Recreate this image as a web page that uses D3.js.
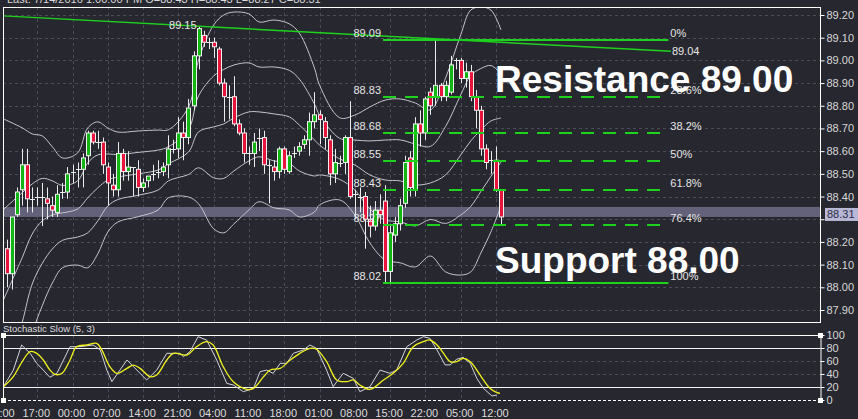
<!DOCTYPE html>
<html><head><meta charset="utf-8">
<script src="https://cdn.jsdelivr.net/npm/d3@7"></script>
<style>html,body{margin:0;padding:0;background:#27272f;overflow:hidden}svg{display:block}</style>
</head><body><svg id="c" width="858" height="419"></svg>
<script>
// ---------- DATA ----------
const opens  = [88.17,88.06,88.32,88.43,88.54,88.39,88.40,88.40,88.39,88.36,88.33,88.41,88.42,88.50,88.51,88.52,88.58,88.68,88.64,88.64,88.53,88.45,88.43,88.59,88.51,88.53,88.52,88.44,88.47,88.49,88.50,88.51,88.54,88.61,88.61,88.68,88.66,88.80,89.02,89.11,89.08,89.08,89.05,88.90,88.84,88.84,88.72,88.68,88.59,88.59,88.65,88.66,88.54,88.53,88.51,88.61,88.51,88.59,88.60,88.63,88.65,88.73,88.76,88.73,88.65,88.50,88.55,88.55,88.66,88.41,88.41,88.40,88.30,88.27,88.34,88.38,88.07,88.23,88.28,88.37,88.57,88.43,88.72,88.68,88.86,88.84,88.89,88.84,88.86,88.99,89.00,88.92,88.95,88.84,88.78,88.61,88.55,88.56,88.43];
const highs  = [88.21,88.31,88.44,88.61,88.61,88.44,88.44,88.46,88.44,88.40,88.45,88.46,88.53,88.54,88.55,88.59,88.69,88.69,88.69,88.66,88.55,88.50,88.64,88.61,88.60,88.53,88.56,88.48,88.49,88.54,88.56,88.55,88.67,88.65,88.75,88.73,88.83,89.04,89.15,89.13,89.10,89.10,89.06,88.92,88.89,88.93,88.74,88.70,88.62,88.68,88.70,88.69,88.56,88.56,88.62,88.62,88.60,88.62,88.64,88.67,88.77,88.86,88.78,88.75,88.67,88.61,88.58,88.67,88.82,88.43,88.44,88.42,88.36,88.38,88.41,88.45,88.27,88.31,88.39,88.58,88.60,88.75,88.78,88.84,88.88,89.09,88.90,88.91,89.02,89.01,89.01,88.99,88.98,88.87,88.80,88.63,88.60,88.62,88.43];
const lows   = [88.00,87.99,88.31,88.36,88.33,88.33,88.36,88.27,88.30,88.31,88.31,88.39,88.39,88.46,88.44,88.44,88.54,88.63,88.61,88.50,88.36,88.40,88.40,88.47,88.47,88.40,88.40,88.42,88.44,88.47,88.48,88.49,88.48,88.59,88.57,88.56,88.63,88.78,88.96,89.06,89.05,89.01,88.89,88.73,88.74,88.71,88.67,88.55,88.54,88.53,88.60,88.50,88.37,88.47,88.48,88.50,88.50,88.57,88.58,88.61,88.58,88.70,88.63,88.61,88.45,88.46,88.53,88.50,88.39,88.30,88.33,88.17,88.22,88.25,88.28,88.02,88.02,88.20,88.25,88.35,88.40,88.40,88.62,88.65,88.76,88.80,88.82,88.82,88.85,88.96,88.90,88.88,88.82,88.70,88.58,88.52,88.50,88.42,88.27];
const closes = [88.06,88.31,88.42,88.54,88.39,88.39,88.40,88.40,88.37,88.34,88.41,88.42,88.50,88.51,88.52,88.57,88.68,88.64,88.64,88.54,88.46,88.43,88.59,88.51,88.53,88.53,88.44,88.46,88.49,88.50,88.51,88.53,88.61,88.61,88.68,88.66,88.79,89.02,89.14,89.08,89.08,89.06,88.90,88.84,88.84,88.72,88.68,88.59,88.59,88.64,88.66,88.54,88.54,88.51,88.61,88.52,88.58,88.59,88.62,88.65,88.73,88.76,88.74,88.66,88.50,88.55,88.55,88.66,88.40,88.41,88.40,88.30,88.27,88.34,88.32,88.07,88.24,88.28,88.36,88.55,88.44,88.72,88.68,88.83,88.80,88.89,88.84,88.89,88.98,89.00,88.92,88.95,88.84,88.78,88.61,88.55,88.56,88.43,88.31];

// Bollinger: middle line and outer deviation
const bandIdx = [-1,3,5,7,9,11,14,16,18,20,22,26,30,32,36,38,41,43,45,48,50,53,56,58,61,62,66,69,72,75,78,81,84,87,90,92,94,96,98];
const bandMid = [87.93,88.13,88.235,88.293,88.319,88.328,88.345,88.394,88.438,88.473,88.486,88.50,88.517,88.544,88.596,88.685,88.707,88.72,88.746,88.773,88.773,88.764,88.751,88.715,88.649,88.627,88.566,88.539,88.495,88.473,88.469,88.451,88.46,88.495,88.583,88.645,88.693,88.733,88.746];
const bandDev = [0.815,0.573,0.441,0.374,0.300,0.242,0.247,0.308,0.291,0.229,0.198,0.189,0.176,0.150,0.198,0.317,0.449,0.480,0.467,0.432,0.396,0.414,0.410,0.405,0.317,0.264,0.181,0.220,0.300,0.352,0.361,0.361,0.322,0.427,0.529,0.577,0.542,0.489,0.388];

// Stochastic slow (5,3)
const kIdx  = [-0.7,1.25,2.9,4.6,5.9,7.2,8.5,9.9,11.2,12.5,14.5,17.1,18.5,19.8,20.8,22.4,23.8,25.1,26.4,27.7,29.7,31.7,34.3,35,36.3,37.9,39.6,41.6,43.6,44.9,46.9,48.9,50.2,51.5,52.8,54.2,55.5,56.8,58.8,60.1,61.4,63.4,64.7,66.7,68.7,70,72,74,76,77.3,79.3,81.3,82.6,83.9,85.3,86.9,87.9,89.2,90.5,91.9,93.2,94.5,96.2,97.2];
const kVals = [20.5,46,84.6,71.8,56.4,46,35,41,61.5,82,82,84.6,77,46,28.2,46,61.5,51.3,41,30.8,46,71.8,71.8,66.7,74.4,97.4,92.3,61.5,25.6,23.1,12.8,18,43.6,46,41,56.4,56.4,71.8,77,84.6,79.5,46,20.5,41,33.3,12.8,20.5,46,41,46,82,92.3,97.4,94.9,77,54,54,62.6,65.6,56.4,33.3,18,6.2,7.7];
const dIdx  = [-0.7,1.25,3.2,4.6,5.9,7.2,8.5,9.5,10.9,12.5,13.8,15.8,17.8,18.8,20.4,21.8,23.8,25.1,26.4,28.4,29.7,31.7,33,35.7,37.6,39.6,40.9,42.9,44.9,47.6,48.9,50.9,52.2,54.2,56.2,58.1,60.1,61.4,63.4,65.4,67.4,68.7,70,72,74.7,76.6,78.6,80.6,82.6,83.9,85.3,86.6,87.9,89.2,90.5,91.9,93.2,94.5,95.8,97.2,97.8];
const dVals = [20.5,36,61.5,74.4,71.8,61.5,46.2,39.5,41,61.5,82,84.6,87.2,77,51.3,41,48.7,53.8,48.7,35.9,38.5,61.5,71.8,69.2,82,89.7,84.6,51.3,28.2,16.4,17.9,35.9,46.2,48.7,61.5,71.8,79.5,78,59,30.8,28.2,30.8,23.1,16.4,30.8,41,56.4,82,89.7,92.3,84.6,71.8,59,59,64,59,46,30.8,18,11.3,10.3];

// Fibonacci retracement (88.02 low -> 89.09 high)
const fibValues = [89.09,88.8375,88.68,88.555,88.43,88.2725,88.02];
const fibLabels = ["89.09","88.83","88.68","88.55","88.43","88.27","88.02"];
const fibPcts   = ["0%","23.6%","38.2%","50%","61.8%","76.4%","100%"];
const fibRange  = [74.6,131.2];

// Trend line
const trendIdx  = [-0.8,131.7];
const trendVals = [89.196,89.04];
const trendLabel = "89.04";
const highMark = {idx:38, val:89.15, label:"89.15"};

const priceTicks = [87.90,88.00,88.10,88.20,88.30,88.40,88.50,88.60,88.70,88.80,88.90,89.00,89.10,89.20];
const stochTicks = [0,20,40,60,80,100];
const timeIdx    = [-1,6,13,20,27,34,41,48,55,62,69,76,83,90,97];
const timeLabels = ["10:00","17:00","00:00","07:00","14:00","21:00","04:00","11:00","18:00","01:00","08:00","15:00","22:00","05:00","12:00"];
const lastPrice = 88.31;
const headerText = "Last: 7/14/2016 1:00:00 PM O=88.43 H=88.43 L=88.27 C=88.31";

// ---------- LAYOUT ----------
const svg = d3.select('#c');
const L=3, R=820, T=7, B=322, ST=335, SB=400;
const x  = d3.scaleLinear().domain([0,98]).range([7,501]);
const y  = d3.scaleLinear().domain([87.9,89.2]).range([310,15]);
const ys = d3.scaleLinear().domain([0,100]).range([SB,ST]);
const FONT = "'Liberation Sans', Arial, sans-serif";
const px = v => Math.round(v)+0.5;
const GREEN = '#1ed21e';

svg.append('rect').attr('width',858).attr('height',419).attr('fill','#27272f');
const defs = svg.append('defs');
defs.append('clipPath').attr('id','cm').append('rect').attr('x',L).attr('y',T).attr('width',R-L).attr('height',B-T);
defs.append('clipPath').attr('id','cs').append('rect').attr('x',L).attr('y',ST).attr('width',R-L).attr('height',SB-ST);

// header
svg.append('text').attr('x',7).attr('y',3).attr('fill','#d8d8d8').attr('font-family',FONT).attr('font-size',11).text(headerText);

// ---------- MAIN PANEL ----------
const gm = svg.append('g').attr('clip-path','url(#cm)');
// grid
gm.selectAll('.hg').data(priceTicks).join('line')
  .attr('x1',L).attr('x2',R).attr('y1',d=>px(y(d))).attr('y2',d=>px(y(d)))
  .attr('stroke','#4c4c58').attr('stroke-dasharray','3,3');
gm.selectAll('.vg').data(timeIdx.filter(i=>x(i)>L+2)).join('line')
  .attr('x1',d=>px(x(d))).attr('x2',d=>px(x(d))).attr('y1',T).attr('y2',B)
  .attr('stroke','#4c4c58').attr('stroke-dasharray','3,3');
// last price band
gm.append('rect').attr('x',L).attr('width',R-L).attr('y',y(lastPrice)-10).attr('height',10).attr('fill','#64627a');

// bollinger lines
const curve = d3.curveCatmullRom.alpha(0.5);
[-1,-0.5,0,0.5,1].forEach(k=>{
  const pts = bandIdx.map((i,j)=>[x(i), y(bandMid[j]+k*bandDev[j])]);
  gm.append('path').attr('d',d3.line().curve(curve)(pts)).attr('fill','none').attr('stroke','#c4c4cc').attr('stroke-width',1);
});

// candles
const cg = gm.append('g');
closes.forEach((c,i)=>{
  const o=opens[i], h=highs[i], l=lows[i], cx=px(x(i));
  cg.append('line').attr('x1',cx).attr('x2',cx).attr('y1',y(h)).attr('y2',y(l)).attr('stroke','#ececec').attr('stroke-width',1);
  if (Math.abs(c-o) < 0.012) {
    cg.append('line').attr('x1',cx-2.5).attr('x2',cx+2.5).attr('y1',px(y(c))).attr('y2',px(y(c))).attr('stroke','#ececec').attr('stroke-width',1);
  } else {
    const top=y(Math.max(o,c)), bot=y(Math.min(o,c));
    cg.append('rect').attr('x',cx-2).attr('width',4).attr('y',top).attr('height',bot-top)
      .attr('fill', c>o ? '#12b612' : '#e8143c').attr('stroke','#f0f0f0').attr('stroke-width',1);
  }
});

// fib lines
fibValues.forEach((v,j)=>{
  const solid = (j===0 || j===fibValues.length-1);
  gm.append('line').attr('x1',x(fibRange[0])).attr('x2',x(fibRange[1])).attr('y1',Math.round(y(v))).attr('y2',Math.round(y(v)))
    .attr('stroke',GREEN).attr('stroke-width',2).attr('stroke-dasharray', solid?null:'13,9');
});
// trend line
gm.append('line').attr('x1',x(trendIdx[0])).attr('x2',x(trendIdx[1])).attr('y1',y(trendVals[0])).attr('y2',y(trendVals[1]))
  .attr('stroke',GREEN).attr('stroke-width',1.4);

// labels
const lab = gm.append('g').attr('font-family',FONT).attr('font-size',11).attr('fill','#e6e6e6');
fibValues.forEach((v,j)=>{
  lab.append('text').attr('x',x(fibRange[0])-2).attr('y',y(v)-3).attr('text-anchor','end').text(fibLabels[j]);
  lab.append('text').attr('x',x(fibRange[1])+2).attr('y',y(v)-3).text(fibPcts[j]);
});
lab.append('text').attr('x',x(trendIdx[1])+1).attr('y',y(trendVals[1])+4).text(trendLabel);
lab.append('text').attr('x',x(highMark.idx)-2).attr('y',y(highMark.val)+3).attr('text-anchor','end').text(highMark.label);

// big annotations
const big = gm.append('g').attr('font-family',FONT).attr('font-weight','bold').attr('font-size',37).attr('fill','#ffffff');
big.append('text').attr('x',495).attr('y',92).text('Resistance 89.00');
big.append('text').attr('x',495).attr('y',273).text('Support 88.00');

// frame
svg.append('line').attr('x1',L).attr('x2',R).attr('y1',T+0.5).attr('y2',T+0.5).attr('stroke','#fff');
svg.append('line').attr('x1',L).attr('x2',R).attr('y1',B+0.5).attr('y2',B+0.5).attr('stroke','#fff');
svg.append('line').attr('x1',L+0.5).attr('x2',L+0.5).attr('y1',T).attr('y2',B).attr('stroke','#fff');

// right price axis (the 88.30 label sits under the last-price tag)
const ay = svg.append('g').attr('transform',`translate(${R+0.5},0)`)
  .call(d3.axisRight(y).tickValues(priceTicks).tickFormat(d=>Math.abs(d-lastPrice)<0.03?'':d3.format('.2f')(d)).tickSize(4).tickSizeOuter(0));
ay.select('.domain').attr('stroke','#fff').attr('d',`M0,${T}V${B+1}`);
ay.selectAll('.tick line').attr('stroke','#fff');
ay.selectAll('.tick text').attr('fill','#d8d8d8').attr('font-family',FONT).attr('font-size',11).attr('x',6);

// last price tag
svg.append('rect').attr('x',825).attr('y',y(lastPrice)-9).attr('width',33).attr('height',13).attr('fill','#b8b8d6');
svg.append('text').attr('x',827).attr('y',y(lastPrice)+1).attr('fill','#2a2a44').attr('font-family',FONT).attr('font-size',11).text(lastPrice.toFixed(2));

// ---------- STOCHASTIC PANEL ----------
svg.append('text').attr('x',3).attr('y',332).attr('fill','#dcdcdc').attr('font-family',FONT).attr('font-size',9.5).text('Stochastic Slow (5, 3)');
const gs = svg.append('g').attr('clip-path','url(#cs)');
gs.selectAll('.sv').data(timeIdx.filter(i=>x(i)>L+2)).join('line')
  .attr('x1',d=>px(x(d))).attr('x2',d=>px(x(d))).attr('y1',ST).attr('y2',SB)
  .attr('stroke','#4c4c58').attr('stroke-dasharray','3,3');
[40,60].forEach(v=>gs.append('line').attr('x1',L).attr('x2',R).attr('y1',px(ys(v))).attr('y2',px(ys(v))).attr('stroke','#4c4c58').attr('stroke-dasharray','3,3'));
[20,80].forEach(v=>gs.append('line').attr('x1',L).attr('x2',R).attr('y1',px(ys(v))).attr('y2',px(ys(v))).attr('stroke','#f4f4f4').attr('stroke-width',1.2));
gs.append('path').attr('d',d3.line()(kIdx.map((i,j)=>[x(i),ys(kVals[j])]))).attr('fill','none').attr('stroke','#d4d4dc').attr('stroke-width',1);
gs.append('path').attr('d',d3.line().curve(curve)(dIdx.map((i,j)=>[x(i),ys(dVals[j])]))).attr('fill','none').attr('stroke','#f2f21e').attr('stroke-width',1.3);
// frame
svg.append('line').attr('x1',L).attr('x2',R).attr('y1',ST+0.5).attr('y2',ST+0.5).attr('stroke','#fff').attr('stroke-width',1.2);
svg.append('line').attr('x1',L).attr('x2',R).attr('y1',SB+0.5).attr('y2',SB+0.5).attr('stroke','#fff').attr('stroke-dasharray','3,2');
svg.append('line').attr('x1',L+0.5).attr('x2',L+0.5).attr('y1',ST).attr('y2',SB).attr('stroke','#fff');
const as = svg.append('g').attr('transform',`translate(${R+0.5},0)`)
  .call(d3.axisRight(ys).tickValues(stochTicks).tickSize(4).tickSizeOuter(0));
as.select('.domain').attr('stroke','#fff');
as.selectAll('.tick line').attr('stroke','#fff');
as.selectAll('.tick text').attr('fill','#d8d8d8').attr('font-family',FONT).attr('font-size',11).attr('x',6);
[[L,ST],[L,SB],[R,ST],[R,SB]].forEach(([a,b])=>svg.append('rect').attr('x',a-2).attr('y',b-2).attr('width',5).attr('height',5).attr('fill','#fff'));

// time axis labels
svg.selectAll('.tl').data(timeIdx).join('text')
  .attr('x',d=>x(d)-1).attr('y',417).attr('text-anchor','middle')
  .attr('fill','#dcdcdc').attr('font-family',FONT).attr('font-size',11)
  .text((d,j)=>timeLabels[j]);
</script>
</body></html>
